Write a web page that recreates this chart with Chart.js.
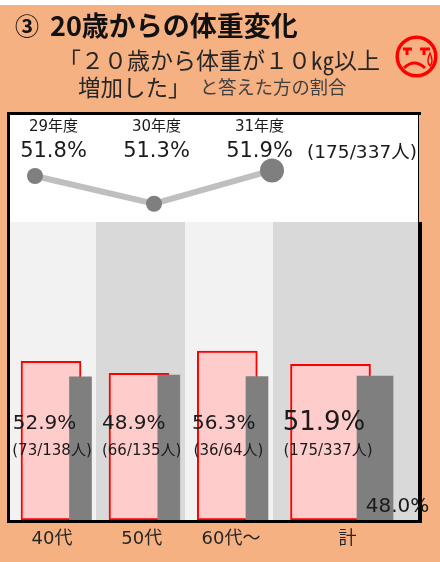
<!DOCTYPE html>
<html lang="ja"><head><meta charset="utf-8">
<script src="https://cdn.jsdelivr.net/npm/chart.js@4"></script>
<style>
html,body{margin:0;padding:0;background:#fff;width:440px;height:562px;overflow:hidden}
#bg{position:absolute;left:0;top:5px;width:440px;height:557px;background:#f6b183}
#c{position:absolute;left:0;top:0}
.t{position:absolute;white-space:nowrap;font-family:"Noto Sans CJK JP";color:#262626;line-height:1}
</style></head><body>
<div id="bg"></div>
<canvas id="c" width="440" height="562"></canvas>
<div class="t" style="left:15px;top:13px;font-size:24px;font-weight:700;color:#111">③</div>
<div class="t" style="left:50px;top:11px;font-size:27px;font-weight:700;color:#111">20歳からの体重変化</div>
<div class="t" style="left:58px;top:48px;font-size:23px">「２０歳から体重が１０㎏以上</div>
<div class="t" style="left:78px;top:75px;font-size:22.5px">増加した」</div>
<div class="t" style="left:200px;top:77px;font-size:18.3px;color:#404040">と答えた方の割合</div>
<svg style="position:absolute;left:394px;top:34px" width="46" height="48" viewBox="0 0 46 48">
<circle cx="22.5" cy="22.5" r="19.3" fill="none" stroke="#ff0000" stroke-width="3.5"/>
<path d="M9 15 L18 15 M13 15 L13 21 M26 15 L36 15 M30 15 L30 21" stroke="#ff0000" stroke-width="3" fill="none"/>
<path d="M10 34 Q20 24 31 34" stroke="#ff0000" stroke-width="3" fill="none"/>
<path d="M36 19 Q32 28 36 32 Q40 28 36 19Z" fill="none" stroke="#ff0000" stroke-width="1.5"/>
</svg>
<script>
const categories = ['40代','50代','60代〜','計'];
const observed = [52.9, 48.9, 56.3, 51.9];
const comparison = [47.7, 48.3, 47.8, 48.0];
const countLabels = ['(73/138人)','(66/135人)','(36/64人)','(175/337人)'];
const years = ['29年度','30年度','31年度'];
const trend = [51.8, 51.3, 51.9];

const redX = [51, 139, 227.3, 330.5];
const greyX = [80.5, 168.8, 257, 375];
const tickX = [52, 141.7, 231, 347.5];
const trendX = [35, 154, 272];
const bandEdges = [10, 96, 185, 273, 418];
const fmt = v => v.toFixed(1) + '%';
const FONT = '"DejaVu Sans","Noto Sans CJK JP"';
const GREY = '#7f7f7f';

const dress = {
  id: 'dress',
  beforeDatasetsDraw(ch) {
    const {ctx, chartArea: a, scales: {x}} = ch;
    ctx.save();
    ctx.fillStyle = '#fff';
    const L = x.getPixelForValue(bandEdges[0]), R = x.getPixelForValue(bandEdges[4]);
    ctx.fillRect(L, a.top, R - L, a.bottom - a.top);
    const split = 222;
    bandEdges.slice(0, -1).forEach((e, i) => {
      ctx.fillStyle = i % 2 ? '#d9d9d9' : '#f2f2f2';
      const l = x.getPixelForValue(e), r = x.getPixelForValue(bandEdges[i + 1]);
      ctx.fillRect(l, split, r - l, a.bottom - split);
    });
    ctx.restore();
  },
  afterDraw(ch) {
    const {ctx} = ch;
    ctx.save();
    ctx.fillStyle = '#000';
    ctx.fillRect(7, 112, 414, 3);
    ctx.fillRect(7, 112, 3, 411);
    ctx.fillRect(7, 520, 415, 3);
    ctx.fillRect(418, 222, 4, 301);
    ctx.fillRect(418, 115, 1, 107);
    const text = (s, cx, cy, size) => {
      ctx.font = size + 'px ' + FONT;
      ctx.textAlign = 'center';
      ctx.textBaseline = 'middle';
      ctx.fillStyle = '#1a1a1a';
      ctx.fillText(s, cx, cy);
    };
    const yearX = [53.5, 156.5, 259.5];
    years.forEach((s, i) => {
      text(s, yearX[i], 127, 15);
      text(fmt(trend[i]), yearX[i], 152, 21);
    });
    text(countLabels[3], 362, 153, 18.5);
    const pctX = [44.5, 133.7, 223.7, 324];
    const subX = [52, 141.7, 228.5, 328];
    observed.forEach((v, i) => {
      text(fmt(v), pctX[i], i === 3 ? 423 : 424, i === 3 ? 26 : 20);
      text(countLabels[i], subX[i], 451, 15);
    });
    text(fmt(comparison[3]), 397.5, 507, 20);
    ctx.restore();
  }
};

const bar = (xs, ys, idx, width, bg, border, bw) => ({
  type: 'bar', stack: 's', xAxisID: 'x', yAxisID: 'y',
  data: idx.map(i => ({x: xs[i], y: ys[i]})),
  barThickness: width, backgroundColor: bg, borderColor: border, borderWidth: bw, borderSkipped: false
});

new Chart(document.getElementById('c'), {
  data: {
    datasets: [
      {type: 'line', xAxisID: 'x', yAxisID: 'y2',
       data: trend.map((v, i) => ({x: trendX[i], y: v})),
       borderColor: '#bfbfbf', borderWidth: 6, tension: 0,
       pointBackgroundColor: GREY, pointBorderColor: GREY, pointBorderWidth: 0,
       pointRadius: [8, 8, 12]},
      bar(greyX, comparison, [0, 1, 2], 22, GREY, GREY, 0),
      bar(greyX, comparison, [3], 36, GREY, GREY, 0),
      bar(redX, observed, [0, 1, 2], 60, '#ffcccc', '#ff0000', 2),
      bar(redX, observed, [3], 80, '#ffcccc', '#ff0000', 2)
    ]
  },
  options: {
    responsive: false, animation: false,
    layout: {autoPadding: false, padding: {top: 113, left: 0, right: 0, bottom: 0}},
    plugins: {legend: {display: false}, tooltip: {enabled: false}},
    scales: {
      x: {type: 'linear', stacked: true, offset: false, min: 0, max: 440,
          grid: {display: false, offset: false}, border: {display: false},
          afterBuildTicks(s) { s.ticks = tickX.map(v => ({value: v})); },
          afterFit(s) { s.height = 42; s.paddingLeft = 0; s.paddingRight = 0; },
          ticks: {autoSkip: false, maxRotation: 0, padding: 1, color: '#262626',
                  font: {size: 18, family: FONT},
                  callback(v) { return categories[tickX.indexOf(v)]; }}},
      y: {display: false, stacked: false, min: 0, max: 407 / 3},
      y2: {display: false, stacked: false, min: 45.6, max: 52.935}
    }
  },
  plugins: [dress]
});
</script>
</body></html>
